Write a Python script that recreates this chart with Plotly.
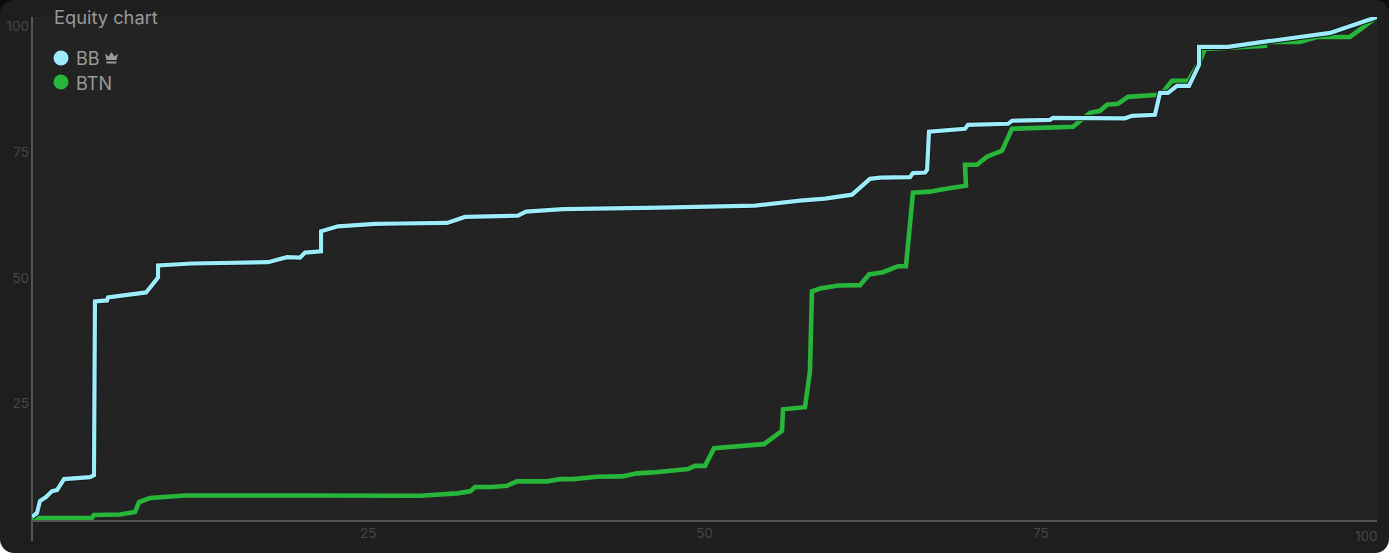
import plotly.graph_objects as go

title_text = "Equity chart"
series_names = ["BB", "BTN"]
x_tick_vals = [25, 50, 75]
y_tick_vals = [25, 50, 75, 100]

bb_x = [0, 0.37, 0.59, 1.04, 1.49, 1.86, 2.38, 4.31, 4.61, 4.68, 5.58, 5.65, 8.48, 9.37, 9.37, 11.9, 17.55, 18.96, 19.93, 20.3,
        21.49, 21.49, 22.75, 25.5, 27.36, 30.86, 32.19, 36.13, 36.73, 39.48, 46.69, 53.75, 57.1, 58.96, 60.97, 62.3, 63.05,
        65.28, 65.5, 66.4, 66.55, 66.69, 69.37, 69.59, 72.57, 72.86, 75.69, 75.91, 81.26, 81.78, 83.49, 83.87, 84.46,
        85.13, 86.02, 86.77, 86.77, 88.92, 91.52, 96.51, 100]
bb_y = [0.6, 1.39, 3.77, 4.56, 5.75, 5.95, 8.13, 8.53, 8.93, 43.45, 43.65, 44.25, 45.24, 48.21, 50.6, 50.99, 51.25, 52.24, 52.18, 53.17,
        53.43, 57.4, 58.39, 58.86, 58.95, 59.06, 60.25, 60.51, 61.31, 61.81, 62.1, 62.5, 63.49, 63.89, 64.68, 67.82, 68.06,
        68.18, 68.97, 69.09, 69.64, 77.18, 77.78, 78.57, 78.77, 79.37, 79.56, 79.96, 79.86, 80.36, 80.56, 84.92, 84.92,
        86.31, 86.31, 90.48, 94.05, 94.05, 95.04, 96.83, 100]

btn_x = [0, 4.46, 4.61, 6.54, 7.66, 7.96, 8.77, 10.63, 11.38, 19.93, 28.85, 31.6, 32.57, 32.94, 34.2, 35.32, 36.06, 38.29, 39.26,
         40.22, 42.01, 43.87, 44.98, 46.17, 48.77, 49.29, 50.04, 50.71, 54.42, 55.76, 55.84, 57.47, 57.84, 57.99, 58.59, 59.93,
         61.56, 62.23, 63.27, 64.39, 64.98, 65.5, 66.77, 67.51, 69.44, 69.37, 70.26, 71.0, 72.12, 72.86, 75.69, 77.4, 78.66,
         79.41, 79.93, 80.74, 81.49, 83.72, 84.09, 84.76, 85.95, 86.77, 87.21, 88.92, 91.67, 91.67, 94.28, 95.54, 97.99, 100]
btn_y = [0.4, 0.4, 0.99, 1.09, 1.59, 3.57, 4.37, 4.56, 4.86, 4.86, 4.82, 5.3, 5.69, 6.55, 6.55, 6.81, 7.68, 7.68, 8.13,
         8.13, 8.59, 8.67, 9.27, 9.46, 10.12, 10.77, 10.77, 14.29, 15.08, 17.72, 22.02, 22.42, 29.56, 45.44, 46.03, 46.63,
         46.69, 48.81, 49.27, 50.46, 50.46, 65.08, 65.28, 65.67, 66.47, 70.63, 70.63, 72.22, 73.41, 77.78, 77.98, 78.17, 80.95,
         81.35, 82.54, 82.74, 84.13, 84.52, 85.12, 87.3, 87.3, 90.87, 93.65, 93.85, 94.25, 95.04, 95.04, 96.03, 96.03, 100]

W, H = 1389, 553
L, R, T, B = 32, 12, 17, 33
BB_COL = "#9CECFB"
BTN_COL = "#27B53A"
TXT = "#999999"
TICK = "#474747"
AXIS = "#555555"
FONT = "Inter, Roboto, sans-serif"

fig = go.Figure()
fig.add_trace(go.Scatter(x=btn_x, y=btn_y, mode="lines", name=series_names[1], cliponaxis=False,
                         line=dict(color=BTN_COL, width=4.6)))
fig.add_trace(go.Scatter(x=bb_x, y=bb_y, mode="lines", name=series_names[0] + " halo", cliponaxis=False, hoverinfo="skip",
                         line=dict(color="#161616", width=6)))
fig.add_trace(go.Scatter(x=bb_x, y=bb_y, mode="lines", name=series_names[0], cliponaxis=False,
                         line=dict(color=BB_COL, width=4.2)))

def px(x): return (x - L) / (W - L - R)
def py(y): return 1 - (y - T) / (H - T - B)

crown_pts = [(105, 53.5), (108.5, 56.5), (111.5, 52), (114.5, 56.5), (118, 53.5), (116.5, 60), (106.5, 60)]
crown = "M" + " L".join(f"{px(a):.5f},{py(b):.5f}" for a, b in crown_pts) + " Z"
crown_base = "M" + " L".join(f"{px(a):.5f},{py(b):.5f}" for a, b in [(106.5, 61.5), (116.5, 61.5), (116.5, 63.5), (106.5, 63.5)]) + " Z"

shapes = [
    dict(type="line", xref="paper", yref="paper", x0=0, x1=0, y0=py(541), y1=1, line=dict(color=AXIS, width=2), layer="below"),
    dict(type="circle", xref="paper", yref="paper", x0=px(53.5), x1=px(68.5), y0=py(65.5), y1=py(50.5),
         fillcolor=BB_COL, line=dict(width=0)),
    dict(type="circle", xref="paper", yref="paper", x0=px(53.5), x1=px(68.5), y0=py(89.5), y1=py(74.5),
         fillcolor=BTN_COL, line=dict(width=0)),
    dict(type="path", xref="paper", yref="paper", path=crown, fillcolor=TXT, line=dict(width=0)),
    dict(type="path", xref="paper", yref="paper", path=crown_base, fillcolor=TXT, line=dict(width=0)),
]

def label(text, x, y, size, color, xanchor="left"):
    return dict(text=text, xref="paper", yref="paper", x=px(x), y=py(y), showarrow=False, xanchor=xanchor, yanchor="middle",
                font=dict(family=FONT, size=size, color=color), borderpad=0, borderwidth=0)

annotations = [
    label(title_text, 54, 17, 18.3, TXT),
    label(series_names[0], 75.5, 58, 18, TXT),
    label(series_names[1], 75.5, 83, 18, TXT),
    label("100", 1378, 536, 13.5, TICK, "right"),
]

fig.update_layout(
    width=W, height=H, autosize=False,
    margin=dict(l=L, r=R, t=T, b=B, pad=0, autoexpand=False),
    paper_bgcolor="#1E1E1E", plot_bgcolor="#232323",
    showlegend=False, shapes=shapes, annotations=annotations,
    font=dict(family=FONT, size=13.5, color=TICK),
    xaxis=dict(range=[0, 100], tickvals=x_tick_vals, showgrid=False, zeroline=False, showline=True, linecolor=AXIS, linewidth=2,
               automargin=False, ticks="", tickfont=dict(size=13.5, color=TICK)),
    yaxis=dict(range=[0, 100], tickvals=y_tick_vals, showgrid=False, zeroline=False, showline=False, automargin=False,
               ticks="", ticklabelposition="outside bottom", ticklabelstandoff=2, tickfont=dict(size=13.5, color=TICK)),
)

post = """
var bg='linear-gradient(to bottom,#0C0C0C 0,#0C0C0C 50%,#FFFFFF 50%,#FFFFFF 100%)';
document.documentElement.style.background=bg;
document.body.style.margin='0';
document.body.style.background=bg;
var g=document.getElementsByClassName('plotly-graph-div')[0];
g.style.borderRadius='14px';g.style.overflow='hidden';
"""
fig.write_html("out.html", post_script=post, config={"displayModeBar": False})
